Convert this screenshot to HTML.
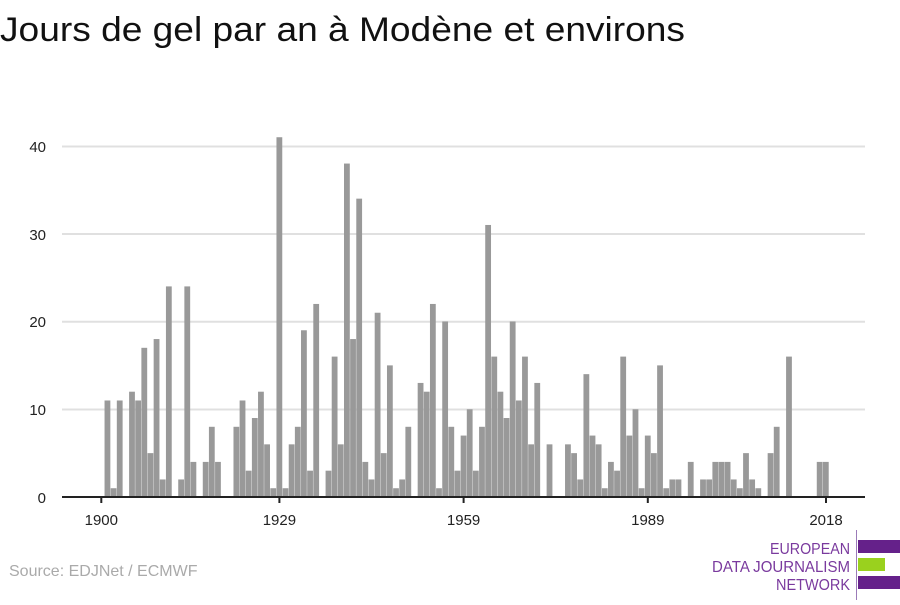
<!DOCTYPE html>
<html><head><meta charset="utf-8"><style>
body{margin:0;width:900px;height:600px;background:#fff;overflow:hidden;font-family:"Liberation Sans",sans-serif}
</style></head><body>
<svg width="900" height="600" xmlns="http://www.w3.org/2000/svg" font-family="Liberation Sans, sans-serif">
<text x="0" y="41" font-size="34" fill="#111" textLength="685" lengthAdjust="spacingAndGlyphs">Jours de gel par an à Modène et environs</text>
<g stroke="#e0e0e0" stroke-width="2">
<line x1="62" x2="865" y1="146.5" y2="146.5"/>
<line x1="62" x2="865" y1="234" y2="234"/>
<line x1="62" x2="865" y1="321.8" y2="321.8"/>
<line x1="62" x2="865" y1="409.5" y2="409.5"/>
</g>
<g font-size="15" fill="#222" text-anchor="end">
<text x="46" y="152">40</text><text x="46" y="240">30</text><text x="46" y="327">20</text><text x="46" y="415">10</text><text x="46" y="503">0</text>
</g>
<g id="bars" fill="#999"></g>
<line x1="62" x2="865" y1="497" y2="497" stroke="#222" stroke-width="2"/>
<g stroke="#222" stroke-width="2">
<line x1="101.3" x2="101.3" y1="497" y2="503"/><line x1="279.4" x2="279.4" y1="497" y2="503"/><line x1="463.6" x2="463.6" y1="497" y2="503"/><line x1="647.8" x2="647.8" y1="497" y2="503"/><line x1="826" x2="826" y1="497" y2="503"/>
</g>
<g font-size="15" fill="#222" text-anchor="middle">
<text x="101.3" y="525">1900</text><text x="279.4" y="525">1929</text><text x="463.6" y="525">1959</text><text x="647.8" y="525">1989</text><text x="826" y="525">2018</text>
</g>
<text x="9" y="576" font-size="16" fill="#aaa">Source: EDJNet / ECMWF</text>
<line x1="856.5" x2="856.5" y1="530" y2="600" stroke="#9b7bb8" stroke-width="1"/>
<rect x="858" y="540" width="42" height="13" fill="#65218a"/>
<rect x="858" y="558" width="27" height="13" fill="#9ad11e"/>
<rect x="858" y="576" width="42" height="13" fill="#65218a"/>
<g font-size="16" fill="#7a3a9e" text-anchor="end" font-family="Liberation Sans Narrow, Liberation Sans, sans-serif">
<text x="850" y="554" textLength="80" lengthAdjust="spacingAndGlyphs">EUROPEAN</text>
<text x="850" y="572" textLength="138" lengthAdjust="spacingAndGlyphs">DATA JOURNALISM</text>
<text x="850" y="590" textLength="74" lengthAdjust="spacingAndGlyphs">NETWORK</text>
</g>
</svg>
<script>
var v={1901:11,1902:1,1903:11,1905:12,1906:11,1907:17,1908:5,1909:18,1910:2,1911:24,1913:2,1914:24,1915:4,1917:4,1918:8,1919:4,1922:8,1923:11,1924:3,1925:9,1926:12,1927:6,1928:1,1929:41,1930:1,1931:6,1932:8,1933:19,1934:3,1935:22,1937:3,1938:16,1939:6,1940:38,1941:18,1942:34,1943:4,1944:2,1945:21,1946:5,1947:15,1948:1,1949:2,1950:8,1952:13,1953:12,1954:22,1955:1,1956:20,1957:8,1958:3,1959:7,1960:10,1961:3,1962:8,1963:31,1964:16,1965:12,1966:9,1967:20,1968:11,1969:16,1970:6,1971:13,1973:6,1976:6,1977:5,1978:2,1979:14,1980:7,1981:6,1982:1,1983:4,1984:3,1985:16,1986:7,1987:10,1988:1,1989:7,1990:5,1991:15,1992:1,1993:2,1994:2,1996:4,1998:2,1999:2,2000:4,2001:4,2002:4,2003:2,2004:1,2005:5,2006:2,2007:1,2009:5,2010:8,2012:16,2017:4,2018:4};
var g=document.getElementById('bars'),s='';
for(var y in v){var c=101.3+(y-1900)*6.14,h=v[y]*8.775;s+='<rect x="'+(c-2.9).toFixed(2)+'" y="'+(497-h).toFixed(2)+'" width="5.8" height="'+h.toFixed(2)+'"/>';}
g.innerHTML=s;
</script>
</body></html>
